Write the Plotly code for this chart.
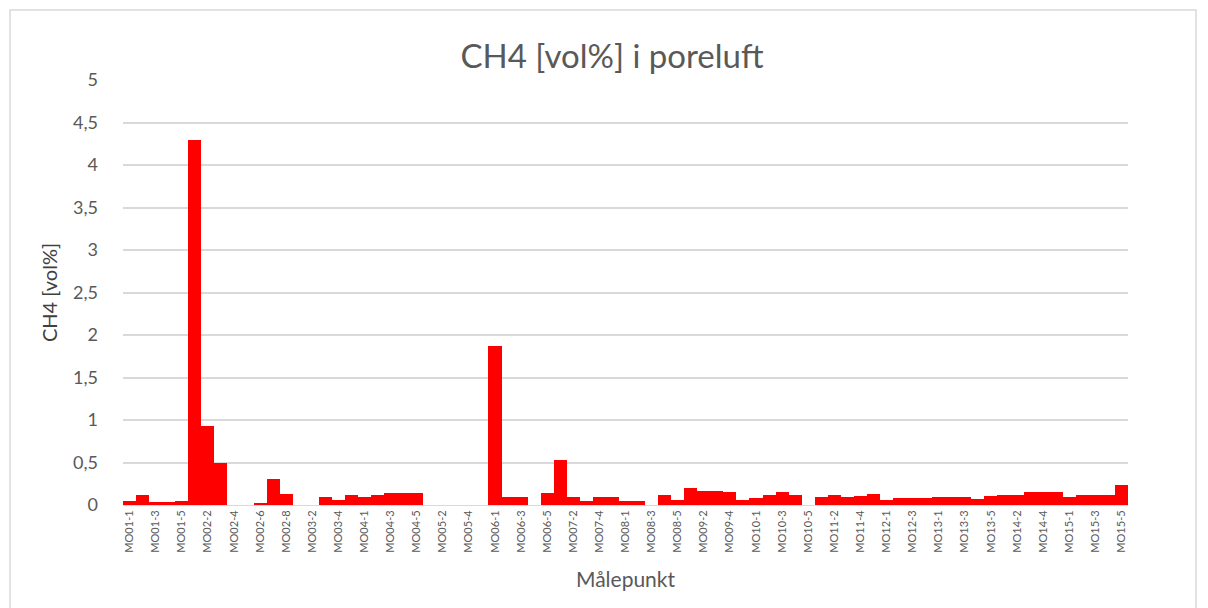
import plotly.graph_objects as go

# measuring points per location (MO12 has only four)
points_per_location = [5, 8, 5, 5, 5, 5, 5, 5, 5, 5, 5, 4, 5, 5, 5]
categories = [
    f"MO{loc:02d}-{p}"
    for loc, n in enumerate(points_per_location, start=1)
    for p in range(1, n + 1)
]

ch4 = [
    0.05, 0.12, 0.03, 0.03, 0.05,                      # MO01
    4.30, 0.93, 0.49, 0.0, 0.0, 0.02, 0.31, 0.13,       # MO02
    0.0, 0.0, 0.09, 0.06, 0.12,                        # MO03
    0.10, 0.12, 0.14, 0.14, 0.14,                      # MO04
    0.0, 0.0, 0.0, 0.0, 0.0,                           # MO05
    1.87, 0.10, 0.09, 0.0, 0.14,                       # MO06
    0.53, 0.10, 0.05, 0.10, 0.09,                      # MO07
    0.05, 0.05, 0.0, 0.12, 0.06,                       # MO08
    0.20, 0.17, 0.17, 0.15, 0.06,                      # MO09
    0.08, 0.12, 0.15, 0.12, 0.0,                       # MO10
    0.09, 0.12, 0.10, 0.11, 0.13,                      # MO11
    0.06, 0.08, 0.08, 0.08,                            # MO12
    0.09, 0.09, 0.09, 0.075, 0.11,                     # MO13
    0.12, 0.12, 0.15, 0.15, 0.15,                      # MO14
    0.09, 0.12, 0.12, 0.12, 0.23,                      # MO15
]

y_ticks = [0, 0.5, 1, 1.5, 2, 2.5, 3, 3.5, 4, 4.5, 5]

font = "Lato, 'Open Sans', sans-serif"

fig = go.Figure(
    go.Bar(
        x=categories,
        y=ch4,
        marker=dict(color="#ff0000", line=dict(width=0)),
    )
)

# the page body adds an 8px offset, so the margins are shifted by that
fig.update_layout(
    width=1208,
    height=608,
    margin=dict(l=115, r=88, t=72, b=111),
    paper_bgcolor="white",
    plot_bgcolor="white",
    bargap=0,
    separators=",.",
    showlegend=False,
    font=dict(family=font, color="#595959"),
    title=dict(
        text="CH4 [vol%] i poreluft",
        x=0.5,
        xanchor="center",
        y=0.92,
        yanchor="middle",
        font=dict(size=33, color="#595959"),
    ),
    shapes=[
        dict(
            type="rect", xref="paper", yref="paper",
            x0=-113 / 1005, x1=1073 / 1005,
            y0=-120 / 425, y1=495 / 425,
            line=dict(color="#d9d9d9", width=1.5),
        )
    ],
)

fig.update_xaxes(
    type="category",
    tickmode="array",
    tickvals=categories[::2],
    ticktext=categories[::2],
    tickangle=-90,
    tickfont=dict(size=11, color="#595959"),
    showgrid=False,
    showline=True,
    linecolor="#d9d9d9",
    ticks="",
    title=dict(text="Målepunkt", font=dict(size=21, color="#595959"), standoff=20),
)

fig.update_yaxes(
    range=[0, 5],
    tickvals=y_ticks,
    tickformat=".1~f",
    tickfont=dict(size=18, color="#595959"),
    showgrid=True,
    gridcolor="#d9d9d9",
    gridwidth=1.5,
    zeroline=False,
    ticks="",
    ticklabelstandoff=24,
    title=dict(text="CH4 [vol%]", font=dict(size=20, color="#404040"), standoff=10),
)

fig.write_html("out.html")
